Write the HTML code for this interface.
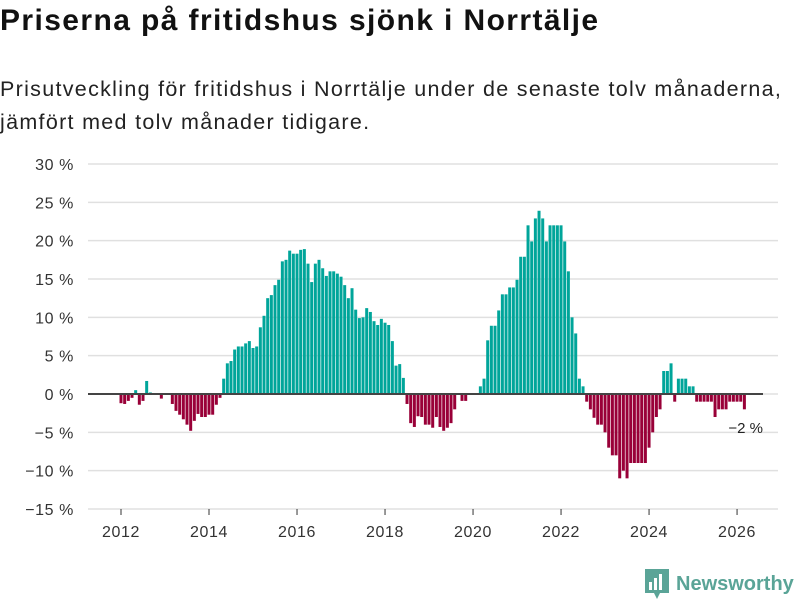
<!DOCTYPE html>
<html><head><meta charset="utf-8">
<style>
body{margin:0;background:#fff;font-family:"Liberation Sans",sans-serif;}
#wrap{position:relative;width:800px;height:600px;overflow:hidden;}
h1{position:absolute;left:0;top:4px;margin:0;font-size:30px;font-weight:bold;color:#111;letter-spacing:1.4px}
p.sub{position:absolute;left:0;top:73px;margin:0;font-size:21.5px;line-height:33px;color:#222;letter-spacing:1.3px}
svg{position:absolute;left:0;top:0}
</style></head><body>
<div id="wrap">
<h1>Priserna på fritidshus sjönk i Norrtälje</h1>
<p class="sub">Prisutveckling för fritidshus i Norrtälje under de senaste tolv månaderna,<br>jämfört med tolv månader tidigare.</p>
<svg id="chart" width="800" height="600"></svg>
</div>
<script>
const startYear = 2012;
const values = [
-1.2,-1.3,-0.9,-0.5,0.5,-1.4,-0.9,1.7,0.2,0,0,-0.6,
0,0,-1.3,-2.2,-2.7,-3.3,-4,-4.8,-3.5,-2.6,-3,-3,
-2.7,-2.7,-1.4,-0.5,2,4,4.3,5.8,6.2,6.2,6.6,6.9,
6.0,6.2,8.7,10.2,12.5,12.9,14.2,14.9,17.3,
17.5,18.7,18.3,18.3,18.8,18.9,17,14.6,17,17.5,16.4,15.4,16,16,15.7,15.3,14.2,12.5,13.8,11,9.9,10,11.2,10.7,9.5,9,9.8,9.3,9,6.9,3.7,3.9,2.1,-1.3,-3.8,-4.3,-2.9,-3,-4,-4,-4.4,-3,-4.3,-4.8,-4.4,-3.8,-2,0,-0.9,-0.9,0,0,0,
1,2,7,8.9,8.9,10.9,13,13,13.9,13.9,14.9,17.9,17.9,22,19.9,22.9,23.9,22.9,19.9,22,22,22,22,19.9,16,10,7.9,2,1,
-1,-2,-3.1,-4,-4,-5,-7,-8,-8,-11,-10,-11,-9,-9,-9,-9,-9,-7,-5,-3,-2,3,3,4,-1,2,2,2,1,1,-1,-1,-1,-1,-1,-3,-2,-2,-2,-1,-1,-1,-1,-2
];
const yTicks = [30,25,20,15,10,5,0,-5,-10,-15];
const yTickLabels = ["30 %","25 %","20 %","15 %","10 %","5 %","0 %","−5 %","−10 %","−15 %"];
const xTicks = [2012,2014,2016,2018,2020,2022,2024,2026];
const lastLabel = "−2 %";

const NS="http://www.w3.org/2000/svg";
const svg=document.getElementById('chart');
const y0px=394, pxPer=7.667;
function y(v){return y0px - v*pxPer;}
function xm(k){return 121 + k*3.667;}
function xYear(yr){return xm((yr-startYear)*12);}
function mk(t,a){const e=document.createElementNS(NS,t);for(const k in a)e.setAttribute(k,a[k]);svg.appendChild(e);return e;}

yTicks.forEach((t,i)=>{
  const g=mk('line',{x1:88,x2:778,y1:y(t),y2:y(t),stroke:'#e0e0e0','stroke-width':1.5});
  
  
  const l=mk('text',{x:74,y:y(t)+6,'text-anchor':'end','font-size':16,'letter-spacing':0.6,fill:'#333','font-family':'Liberation Sans, sans-serif'});
  l.textContent=yTickLabels[i];
  
  
});
xTicks.forEach(yr=>{
  const x=xYear(yr);
  const t=mk('line',{x1:x,x2:x,y1:509,y2:515,stroke:'#333','stroke-width':1});
  
  
  const l=mk('text',{x:x,y:537,'text-anchor':'middle','font-size':16,'letter-spacing':0.6,fill:'#333','font-family':'Liberation Sans, sans-serif'});
  l.textContent=yr;
  
  
});
values.forEach((v,k)=>{
  const x=xm(k)-1.5;
  const top=Math.min(y(v),y0px), h=Math.abs(y(v)-y0px);
  const r=mk('rect',{x:x,y:top,width:3,height:h,fill:v>=0?'#00a59a':'#990038'});
  
  
});
const zl=mk('line',{x1:88,x2:763,y1:y0px,y2:y0px,stroke:'#444','stroke-width':2});


const ll=mk('text',{x:763,y:433,'text-anchor':'end','font-size':15,fill:'#222','font-family':'Liberation Sans, sans-serif'});
ll.textContent=lastLabel;


</script>
<div style="position:absolute;left:645px;top:569px;display:flex;align-items:center;">
<svg width="24" height="30" viewBox="0 0 24 30" style="position:static"><path d="M0 0H24V24H15L12 30L9 24H0Z" fill="#5aa497"/><rect x="4" y="13" width="3" height="8" fill="#fff"/><rect x="9" y="9" width="3" height="12" fill="#fff"/><rect x="14" y="5" width="3" height="16" fill="#fff"/></svg>
<span style="font-size:20px;font-weight:bold;color:#5aa497;margin-left:7px;">Newsworthy</span>
</div>
</body></html>
